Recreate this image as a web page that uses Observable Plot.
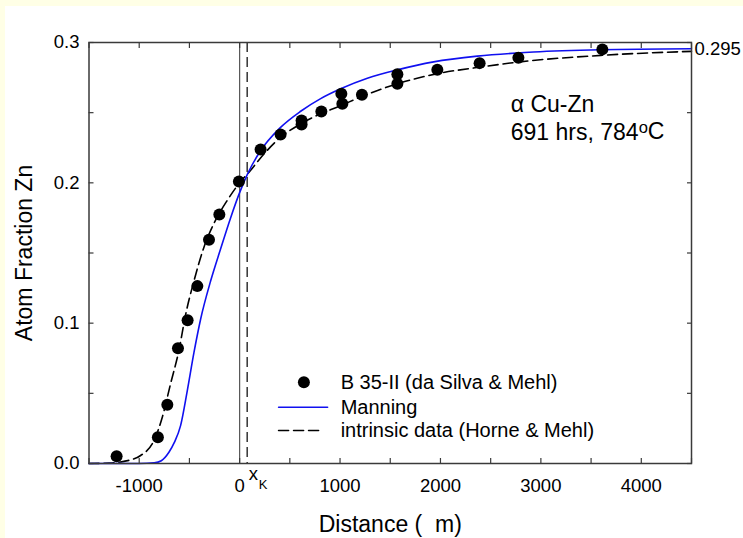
<!DOCTYPE html>
<html>
<head>
<meta charset="utf-8">
<script src="https://cdn.jsdelivr.net/npm/d3@7"></script>
<script src="https://cdn.jsdelivr.net/npm/@observablehq/plot@0.6"></script>
<style>
  html, body { margin: 0; padding: 0; background: #FFFFE6; }
  #chart { position: absolute; left: 5px; top: 6px; width: 738px; height: 532px; background: #ffffff; }
  #chart svg { display: block; }
</style>
</head>
<body>
<div id="chart"></div>
<script>
// ---------- data ----------
const pointX = [-1225, -814, -720, -614, -518, -421, -305, -202, -7, 209, 408, 617, 617, 814, 1013, 1023, 1218, 1571, 1571, 1969, 2390, 2776, 3612];
const pointY = [0.0052, 0.0187, 0.0418, 0.0822, 0.102, 0.1264, 0.1594, 0.1775, 0.201, 0.2238, 0.2345, 0.2416, 0.2445, 0.2509, 0.2635, 0.2564, 0.2628, 0.2773, 0.2706, 0.2806, 0.2853, 0.2892, 0.2951];

const manningX = [-1500, -1000, -850, -780, -704, -650, -588, -521, -455, -388, -289, -189, -90, 0, 77, 200, 400, 608, 807, 1006, 1272, 1571, 1932, 2367, 2928, 3596, 4500];
const manningY = [0, 0, 0.0005, 0.002, 0.008, 0.015, 0.027, 0.052, 0.079, 0.103, 0.130, 0.153, 0.175, 0.193, 0.206, 0.222, 0.239, 0.251, 0.260, 0.267, 0.2745, 0.2805, 0.2862, 0.2903, 0.2932, 0.2948, 0.2955];

const intrinsicX = [-1500, -1300, -1152, -986, -853, -770, -687, -605, -538, -455, -356, -256, -123, -7, 110, 200, 400, 608, 800, 1006, 1200, 1571, 1969, 2400, 2766, 3596, 4500];
const intrinsicY = [0, 0.0003, 0.0015, 0.0057, 0.0164, 0.033, 0.057, 0.0805, 0.106, 0.130, 0.154, 0.171, 0.1875, 0.1994, 0.209, 0.217, 0.232, 0.242, 0.249, 0.255, 0.261, 0.2706, 0.2778, 0.2825, 0.286, 0.2908, 0.2937];

const xK = 75;
const xMajorTicks = [-1000, 0, 1000, 2000, 3000, 4000];
const xMinorTicks = [-1500, -1000, -500, 0, 500, 1000, 1500, 2000, 2500, 3000, 3500, 4000, 4500];
const yMajorTicks = [0, 0.1, 0.2, 0.3];
const yMinorTicks = [0, 0.05, 0.1, 0.15, 0.2, 0.25, 0.3];
const rightTick = [0.295];

const legendLabels = ["B 35-II (da Silva & Mehl)", "Manning", "intrinsic data (Horne & Mehl)"];
const annotation1 = "\u03b1 Cu-Zn";
const annotation2 = "691 hrs, 784oC";
const xTitle = "Distance (  m)";
const yTitle = "Atom Fraction Zn";

// ---------- tables ----------
const points = pointX.map((x, i) => ({x, y: pointY[i]}));
const manning = manningX.map((x, i) => ({x, y: manningY[i]}));
const intrinsic = intrinsicX.map((x, i) => ({x, y: intrinsicY[i]}));

// legend layout (data coordinates)
const legX0 = 388, legX1 = 876, legX1d = 827, legDotX = 640, legTextX = 1006;
const legY = [0.0579, 0.0401, 0.0235];

const FONT = "'Liberation Sans', Arial, Helvetica, sans-serif";
const frameColor = "#3a3a3a";

const svg = Plot.plot({
  width: 738,
  height: 532,
  marginLeft: 83.5,
  marginRight: 52,
  marginTop: 36,
  marginBottom: 75,
  style: {fontFamily: FONT, background: "white", overflow: "visible", color: "black"},
  x: {domain: [-1500, 4500]},
  y: {domain: [0, 0.3]},
  marks: [
    // vertical reference lines
    Plot.ruleX([0], {stroke: "#555", strokeWidth: 1.2}),
    Plot.ruleX([xK], {stroke: "black", strokeWidth: 1.2, strokeDasharray: "10,5"}),
    // curves
    Plot.line(intrinsic, {x: "x", y: "y", stroke: "black", strokeWidth: 1.6, strokeDasharray: "10,5", curve: "monotone-x"}),
    Plot.line(manning, {x: "x", y: "y", stroke: "#1010f0", strokeWidth: 1.6, curve: "monotone-x"}),
    Plot.dot(points, {x: "x", y: "y", r: 6, fill: "black", stroke: "none"}),
    // inward ticks on all four sides
    Plot.axisX({anchor: "bottom", ticks: xMinorTicks, tickSize: 5, dy: -5, text: null, label: null, stroke: frameColor, strokeWidth: 1.2}),
    Plot.axisX({anchor: "top", ticks: xMinorTicks, tickSize: 5, dy: 5, text: null, label: null, stroke: frameColor, strokeWidth: 1.2}),
    Plot.axisY({anchor: "left", ticks: yMinorTicks, tickSize: 5, dx: 5, text: null, label: null, stroke: frameColor, strokeWidth: 1.2}),
    Plot.axisY({anchor: "right", ticks: yMinorTicks, tickSize: 5, dx: -5, text: null, label: null, stroke: frameColor, strokeWidth: 1.2}),
    // tick labels
    Plot.axisX({anchor: "bottom", ticks: xMajorTicks, tickSize: 0, tickPadding: 15, tickFormat: d => String(d), label: null, fontSize: 18.5, fill: "black"}),
    Plot.axisY({anchor: "left", ticks: yMajorTicks, tickSize: 0, tickPadding: 9.5, tickFormat: d3.format(".1f"), label: null, fontSize: 18.5, fill: "black"}),
    Plot.axisY({anchor: "right", ticks: rightTick, tickSize: 0, tickPadding: 3, tickFormat: d3.format(".3f"), label: null, fontSize: 18.5, fill: "black"}),
    Plot.frame({stroke: frameColor, strokeWidth: 1.5}),
    // x_K label
    Plot.text(["x"], {x: () => xK, frameAnchor: "bottom", dx: 6.3, dy: 11, fontSize: 18.5, textAnchor: "middle", lineAnchor: "middle"}),
    Plot.text(["K"], {x: () => xK, frameAnchor: "bottom", dx: 15.8, dy: 21, fontSize: 13, textAnchor: "middle", lineAnchor: "middle"}),
    // axis titles
    Plot.text([xTitle], {frameAnchor: "bottom", dy: 61.5, fontSize: 23, lineAnchor: "middle", textAnchor: "middle"}),
    Plot.text([yTitle], {frameAnchor: "left", dx: -64.5, rotate: -90, fontSize: 23, lineAnchor: "middle", textAnchor: "middle"}),
    // annotations
    Plot.text([annotation1], {x: () => 2700, y: () => 0.2557, textAnchor: "start", lineAnchor: "middle", fontSize: 23}),
    Plot.text([annotation2], {x: () => 2700, y: () => 0.2361, textAnchor: "start", lineAnchor: "middle", fontSize: 23}),
    // legend
    Plot.dot([legendLabels[0]], {x: () => legDotX, y: () => legY[0], r: 6, fill: "black"}),
    Plot.line([{x: legX0, y: legY[1]}, {x: legX1, y: legY[1]}], {x: "x", y: "y", stroke: "#1010f0", strokeWidth: 1.6}),
    Plot.line([{x: legX0, y: legY[2]}, {x: legX1d, y: legY[2]}], {x: "x", y: "y", stroke: "black", strokeWidth: 1.6, strokeDasharray: "10,5"}),
    Plot.text(legendLabels, {x: () => legTextX, y: (d, i) => legY[i], textAnchor: "start", lineAnchor: "middle", fontSize: 20})
  ]
});

// superscript "o" in the temperature annotation
d3.select(svg).selectAll("text").each(function() {
  if (this.textContent === annotation2) {
    const t = d3.select(this);
    t.text(null);
    t.append("tspan").text("691 hrs, 784");
    t.append("tspan").attr("dy", "-0.42em").attr("font-size", "0.72em").text("o");
    t.append("tspan").attr("dy", "0.3em").text("C");
  }
});

document.getElementById("chart").appendChild(svg);
</script>
</body>
</html>
